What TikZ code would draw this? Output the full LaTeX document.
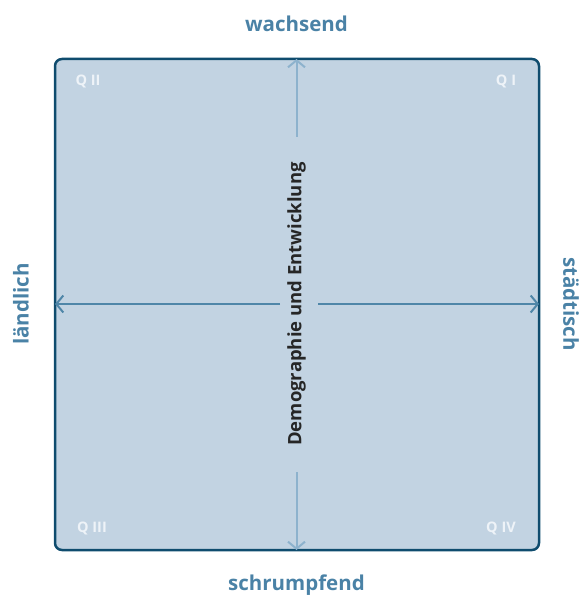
\documentclass[tikz,border=0pt]{standalone}
\usepackage{fontspec}
\setmainfont{Open Sans}
\usetikzlibrary{arrows.meta}
\definecolor{boxfill}{HTML}{C2D3E2}
\definecolor{boxline}{HTML}{0F4C6E}
\definecolor{vaxis}{HTML}{8DB2CD}
\definecolor{haxis}{HTML}{4F86A8}
\definecolor{lbl}{HTML}{4A82A6}
\definecolor{qcol}{HTML}{EEF3F8}
\tikzset{
  axislbl/.style={font=\fontsize{20.5}{24}\selectfont\bfseries, text=lbl, inner sep=0},
  qlbl/.style={font=\fontsize{14.5}{16}\selectfont\bfseries, text=qcol, inner sep=0},
  axarrow/.style={line width=2pt, -{Straight Barb[length=7pt, width=17pt, line width=2pt]}},
}
\begin{document}
\begin{tikzpicture}[x=1pt,y=-1pt]
\useasboundingbox (0,0) rectangle (580,601);
\draw[boxline, fill=boxfill, line width=2.5pt, rounded corners=7pt] (55,59) rectangle (539,550);
\coordinate (top) at (296.5,59);
\coordinate (bot) at (296.5,550);
\coordinate (lft) at (55,304);
\coordinate (rgt) at (539,304);
\coordinate (vt) at (296.5,137);
\coordinate (vb) at (296.5,472);
\coordinate (hl) at (280,304);
\coordinate (hr) at (318,304);
\draw[axarrow, vaxis] (vt) -- (top);
\draw[axarrow, vaxis] (vb) -- (bot);
\draw[axarrow, haxis] (hl) -- (lft);
\draw[axarrow, haxis] (hr) -- (rgt);
\node[rotate=90, font=\fontsize{18.5}{21}\selectfont\bfseries, text=black!85, inner sep=0] (title) at (296.5,304) {Demographie und Entwicklung};
\node[axislbl] (w) at (296.5,24) {wachsend};
\node[axislbl] (s) at (296.5,585) {schrumpfend};
\node[axislbl, rotate=90] (l) at (21,304) {ländlich};
\node[axislbl, rotate=-90] (r) at (571,304) {städtisch};
\node[qlbl] (q2) at (88,81) {Q II};
\node[qlbl] (q1) at (506,81) {Q I};
\node[qlbl] (q3) at (92,528) {Q III};
\node[qlbl] (q4) at (501,528) {Q IV};
\end{tikzpicture}
\end{document}
